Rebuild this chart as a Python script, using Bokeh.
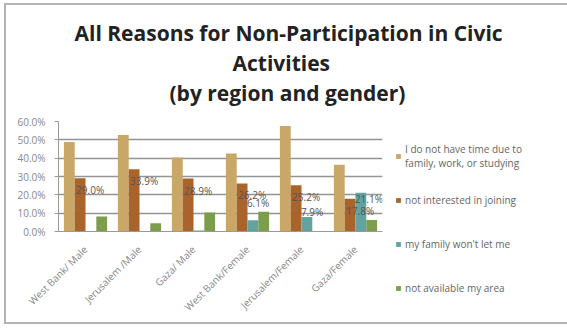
import math
from bokeh.plotting import figure
from bokeh.models import (ColumnDataSource, FactorRange, Legend, LegendItem, Title,
                          PrintfTickFormatter, FixedTicker)
from bokeh.transform import dodge
from bokeh.core.properties import value
from bokeh.embed import file_html
from bokeh.resources import INLINE

# ---------------- data ----------------
categories = ["West Bank/ Male", "Jerusalem /Male", "Gaza/ Male",
              "West Bank/Female", "Jerusalem/Female", "Gaza/Female"]
no_time = [48.8, 52.6, 40.3, 42.6, 57.5, 36.4]
not_interested = [29.0, 33.9, 28.9, 26.2, 25.2, 17.8]
family_wont = [0.0, 0.0, 0.6, 6.1, 7.9, 21.1]
not_available = [8.2, 4.5, 10.4, 10.8, 0.0, 6.3]
series_names = ["I do not have time due to\nfamily, work, or studying",
                "not interested in joining",
                "my family won't let me",
                "not available my area"]
y_ticks = [0, 10, 20, 30, 40, 50, 60]

# ---------------- styles ----------------
colors = ["#C9A767", "#A9642C", "#62A3A0", "#7C9E4C"]
FONT = "Open Sans"

src = ColumnDataSource(dict(cat=categories, a=no_time, b=not_interested,
                            c=family_wont, d=not_available,
                            b_lbl=["%.1f%%" % v for v in not_interested]))

p = figure(x_range=FactorRange(*categories), y_range=(0, 60),
           frame_width=324, frame_height=110,
           output_backend="svg", toolbar_location=None,
           min_border_left=52, min_border_right=179, min_border_top=116,
           min_border_bottom=91)
p.styles = {"border": "2px solid #b4b4b4", "margin-left": "4px", "margin-top": "3px"}
p.background_fill_color = "white"
p.border_fill_color = "white"
p.outline_line_color = None

keys = ["a", "b", "c", "d"]
offsets = [-0.3, -0.1, 0.1, 0.3]
renderers = []
for k, off, col in zip(keys, offsets, colors):
    r = p.vbar(x=dodge("cat", off, range=p.x_range), top=k, width=0.2,
               source=src, fill_color=col, line_color=None)
    renderers.append(r)

# data labels for "not interested"
p.text(x=dodge("cat", -0.1, range=p.x_range), y="b", text="b_lbl", source=src,
       x_offset=-4, y_offset=12, text_align="left", text_baseline="middle",
       text_font=value(FONT), text_font_size="10px", text_color="#555555")

# data labels for "family won't let me" (only those shown in the source)
fam_idx = [3, 4, 5]
fam_dy = [-17, -5, 6]
fam_src = ColumnDataSource(dict(
    x=[categories[i] for i in fam_idx],
    y=[family_wont[i] for i in fam_idx],
    t=["%.1f%%" % family_wont[i] for i in fam_idx],
    dy=fam_dy))
p.text(x=dodge("x", 0.1, range=p.x_range), y="y", text="t", source=fam_src,
       x_offset=-6, y_offset="dy", text_align="left", text_baseline="middle",
       text_font=value(FONT), text_font_size="10px", text_color="#555555")

# axes
p.yaxis.ticker = FixedTicker(ticks=y_ticks)
p.yaxis.formatter = PrintfTickFormatter(format="%.1f%%")
p.yaxis.major_label_text_font = FONT
p.yaxis.major_label_text_font_size = "10px"
p.yaxis.major_label_text_color = "#888888"
p.yaxis.axis_line_color = "#999999"
p.yaxis.major_tick_line_color = "#999999"
p.yaxis.major_tick_out = 4
p.yaxis.major_tick_in = 0
p.yaxis.minor_tick_line_color = None
p.yaxis.major_label_standoff = 9

p.xaxis.major_label_orientation = math.pi / 4
p.xaxis.major_label_text_font = FONT
p.xaxis.major_label_text_font_size = "10px"
p.xaxis.major_label_text_color = "#888888"
p.xaxis.axis_line_color = "#999999"
p.xaxis.major_tick_line_color = None
p.xaxis.major_label_standoff = 10

p.xgrid.grid_line_color = None
p.ygrid.grid_line_color = "#959595"
p.ygrid.grid_line_width = 1.5
p.x_range.range_padding = 0.0

# blank gap between the frame and the title block
p.add_layout(Title(text=" ", text_font_size="8px", standoff=4), "above")

# titles (added bottom line first), left-aligned with offsets from frame left
title_lines = ["(by region and gender)", "Activities", "All Reasons for Non-Participation in Civic"]
title_off = [111, 174, 16]
for txt, off in zip(title_lines, title_off):
    p.add_layout(Title(text=txt, align="left", offset=off, text_font=FONT,
                       text_font_style="bold", text_font_size="21px",
                       text_color="#222222", standoff=0), "above")

# legend
items = [LegendItem(label=n, renderers=[r]) for n, r in zip(series_names, renderers)]
legend = Legend(items=items, location="top_left", orientation="vertical")
legend.label_text_font = FONT
legend.label_text_font_size = "10px"
legend.label_text_color = "#666666"
legend.label_text_line_height = 1.5
legend.glyph_width = 6
legend.glyph_height = 6
legend.spacing = -8
legend.label_height = 44
legend.label_standoff = 4
legend.background_fill_alpha = 0
legend.border_line_color = None
legend.padding = 13
legend.margin = 13
p.add_layout(legend, "right")

open("out.html", "w").write(file_html(p, INLINE))
